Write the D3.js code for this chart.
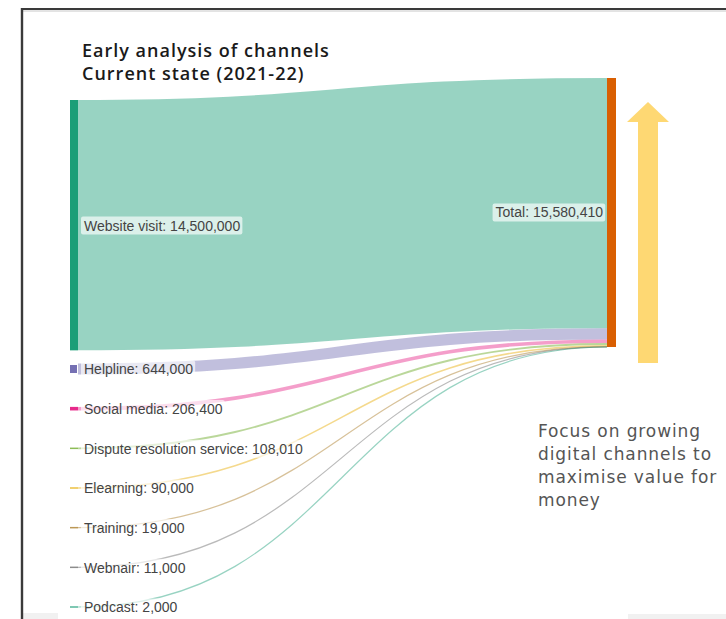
<!DOCTYPE html>
<html>
<head>
<meta charset="utf-8">
<script src="https://cdn.jsdelivr.net/npm/d3@7"></script>
<style>
  html, body { margin: 0; padding: 0; background: #ffffff; }
  svg { display: block; }
</style>
</head>
<body>
<svg id="chart" width="726" height="619"></svg>
<script>
// ---- data ----
const titleLines = ["Early analysis of channels", "Current state (2021-22)"];
const sourceNames = ["Website visit", "Helpline", "Social media", "Dispute resolution service", "Elearning", "Training", "Webnair", "Podcast"];
const sourceValues = [14500000, 644000, 206400, 108010, 90000, 19000, 11000, 2000];
const sourceColors = ["#1b9e77", "#7570b3", "#e7298a", "#66a61e", "#e6ab02", "#a6761d", "#666666", "#1b9e77"];
const targetName = "Total";
const targetColor = "#d95f02";
const noteLines = ["Focus on growing", "digital channels to", "maximise value for", "money"];

const svg = d3.select("#chart");
const fmt = d3.format(",");
const total = d3.sum(sourceValues);

// frame
svg.append("rect").attr("x", 22).attr("y", 613).attr("width", 36).attr("height", 6).attr("fill", "#f1f1f1");
svg.append("rect").attr("x", 628).attr("y", 614).attr("width", 98).attr("height", 5).attr("fill", "#f1f1f1");
svg.append("line").attr("x1", 21).attr("x2", 726).attr("y1", 11).attr("y2", 11).attr("stroke", "#c8c8c8").attr("stroke-width", 1);
svg.append("line").attr("x1", 21).attr("x2", 726).attr("y1", 9).attr("y2", 9).attr("stroke", "#3a3a3a").attr("stroke-width", 2.2);
svg.append("line").attr("x1", 22).attr("x2", 22).attr("y1", 8).attr("y2", 619).attr("stroke", "#3a3a3a").attr("stroke-width", 2.4);

// title
svg.append("g").selectAll("text").data(titleLines).join("text")
  .attr("x", 82).attr("y", (d, i) => 57 + i * 23)
  .attr("font-family", "'Open Sans', Lato, sans-serif").attr("font-weight", 600)
  .attr("font-size", 18).attr("letter-spacing", 1.0).attr("fill", "#1a1a1a")
  .text(d => d);

// scales
const hScale = d3.scaleLinear().domain([0, total]).range([0, 269]);
const xLeft = 70, nodeW = 8, xRight = 607, rightW = 9;
const rightTop = 78;
const websiteTop = 100;
const smallY = d3.scalePoint().domain(sourceNames.slice(1)).range([369, 607]);

// compute layout
let acc = rightTop;
const links = sourceNames.map((name, i) => {
  const h = hScale(sourceValues[i]);
  let y0 = i === 0 ? websiteTop : smallY(name) - h / 2;
  const y1 = y0 + h;
  const ty0 = acc; acc += h;
  return { name, value: sourceValues[i], color: sourceColors[i], h,
           sy: (y0 + y1) / 2, ny0: y0, ny1: y1, ty: ty0 + h / 2 };
});

const linkGen = d3.linkHorizontal().source(d => [xLeft + nodeW, d.sy]).target(d => [xRight, d.ty]);

// links
svg.append("g").attr("fill", "none").selectAll("path").data(links).join("path")
  .attr("d", linkGen)
  .attr("stroke", d => d.color)
  .attr("stroke-opacity", 0.45)
  .attr("stroke-width", d => Math.max(1.2, d.h));

// source nodes
svg.append("g").selectAll("rect").data(links).join("rect")
  .attr("x", xLeft).attr("width", d => d.h > 5 && d.h < 50 ? 7 : nodeW)
  .attr("y", d => d.h < 2 ? d.sy - 0.75 : (d.h < 50 && d.h > 5 ? d.sy - 4 : d.ny0))
  .attr("height", d => d.h < 2 ? 1.5 : (d.h < 50 && d.h > 5 ? 8 : d.h))
  .attr("fill", d => d.color)
  .attr("fill-opacity", d => d.h < 2 ? 0.75 : 1);

// target node
svg.append("rect").attr("x", xRight).attr("y", rightTop).attr("width", rightW)
  .attr("height", hScale(total)).attr("fill", targetColor);

// labels
function addLabel(x, y, str, anchor) {
  const g = svg.append("g");
  const t = g.append("text").attr("x", x).attr("y", y).attr("dy", "0.35em")
    .attr("text-anchor", anchor)
    .attr("font-family", "'Liberation Sans', Arial, sans-serif").attr("font-size", 14)
    .attr("fill", "#444444").text(str);
  const bb = t.node().getBBox();
  g.insert("rect", "text").attr("x", bb.x - 3).attr("y", bb.y - 1).attr("width", bb.width + 5)
    .attr("height", bb.height + 2).attr("rx", 2).attr("fill", "#ffffff").attr("fill-opacity", 0.65);
}
links.forEach(d => addLabel(84, d.sy + 0.5, d.name + ": " + fmt(d.value), "start"));
addLabel(603, rightTop + hScale(total) / 2, targetName + ": " + fmt(total), "end");

// arrow
const arrowX = 648;
svg.append("path")
  .attr("d", d3.line()([[arrowX - 10, 363], [arrowX - 10, 122], [arrowX - 21, 122], [arrowX, 102], [arrowX + 21, 122], [arrowX + 10, 122], [arrowX + 10, 363]]) + "Z")
  .attr("fill", "#fed873");

// note
svg.append("g").selectAll("text").data(noteLines).join("text")
  .attr("x", 538).attr("y", (d, i) => 437 + i * 23)
  .attr("font-family", "'DejaVu Sans', sans-serif").attr("font-size", 17)
  .attr("letter-spacing", 0.9)
  .attr("fill", "#555555")
  .text(d => d);
</script>
</body>
</html>
